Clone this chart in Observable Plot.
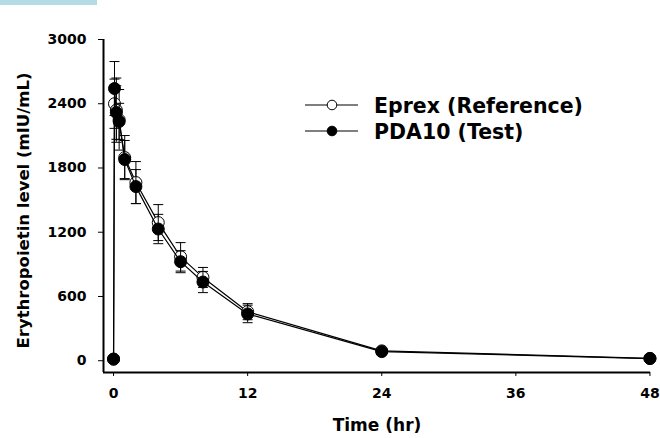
<!DOCTYPE html>
<html><head><meta charset="utf-8">
<script src="https://cdn.jsdelivr.net/npm/d3@7"></script>
<script src="https://cdn.jsdelivr.net/npm/@observablehq/plot@0.6"></script>
<style>
body{margin:0;background:#fff;}
#wrap{position:relative;width:660px;height:438px;overflow:hidden;background:#fff;}
#bar{position:absolute;left:0;top:0;width:97px;height:5px;background:#b4dbe6;}
#legend{position:absolute;left:0;top:0;pointer-events:none;}
</style></head><body>
<div id="wrap"><div id="chart"></div><div id="bar"></div><svg id="legend" width="660" height="438"></svg></div>
<script>
const times = [0, 0.083, 0.25, 0.5, 1, 2, 4, 6, 8, 12, 24, 48];
const eprexMean = [15, 2400, 2340, 2250, 1897, 1664, 1290, 970, 778, 458, 92, 22];
const eprexSD   = [0, 230, 300, 283, 206, 196, 168, 133, 93, 75, 10, 4];
const pdaMean   = [15, 2542, 2318, 2234, 1879, 1626, 1230, 925, 735, 437, 85, 20];
const pdaSD     = [0, 252, 250, 170, 178, 159, 137, 103, 99, 82, 10, 4];
const seriesNames = ["Eprex (Reference)", "PDA10 (Test)"];
const seriesFills = ["white", "black"];
const xTicks = [0, 12, 24, 36, 48];
const yTicks = [0, 600, 1200, 1800, 2400, 3000];
const xLabel = "Time (hr)";
const yLabel = "Erythropoietin level (mIU/mL)";

const xDomain = [-0.9, 48.05];
const yDomain = [-110, 3000];
const FONT = "DejaVu Sans";

const seriesData = [eprexMean, pdaMean].map((means, k) => {
  const sds = k === 0 ? eprexSD : pdaSD;
  return times.map((t, i) => ({t, v: means[i], lo: means[i] - sds[i], hi: means[i] + sds[i], sd: sds[i], name: seriesNames[k]}));
});

const capSymbol = {draw(ctx, size) { const w = Math.sqrt(size / Math.PI); ctx.moveTo(-w, 0); ctx.lineTo(w, 0); }};

const seriesMarks = seriesData.flatMap((rows, k) => {
  const eb = rows.filter(d => d.sd > 0);
  return [
    Plot.ruleX(eb, {x: "t", y1: "lo", y2: "hi", stroke: "black", strokeWidth: 1}),
    Plot.dot(eb, {x: "t", y: "hi", symbol: capSymbol, r: 5, stroke: "black", fill: "none", strokeWidth: 1}),
    Plot.dot(eb, {x: "t", y: "lo", symbol: capSymbol, r: 5, stroke: "black", fill: "none", strokeWidth: 1}),
    Plot.line(rows, {x: "t", y: "v", stroke: "black", strokeWidth: 1.2}),
    Plot.dot(rows, {x: "t", y: "v", r: 6, fill: seriesFills[k], stroke: "black", strokeWidth: 1})
  ];
});

const chart = Plot.plot({
  width: 660,
  height: 438,
  marginLeft: 103,
  marginRight: 10,
  marginTop: 39,
  marginBottom: 66,
  style: {fontFamily: FONT, fontWeight: "bold", background: "white", color: "black"},
  x: {domain: xDomain},
  y: {domain: yDomain},
  marks: [
    Plot.axisY({ticks: yTicks, tickSize: 5, tickPadding: 12, fontSize: 14, fontWeight: "bold", tickFormat: d => String(d), label: null, strokeWidth: 1}),
    Plot.axisX({ticks: xTicks, tickSize: 4, tickPadding: 12, fontSize: 14, fontWeight: "bold", tickFormat: d => String(d), label: null, strokeWidth: 1}),
    Plot.ruleX([xDomain[0]], {y1: () => yDomain[0], y2: () => yDomain[1], stroke: "black", strokeWidth: 2}),
    Plot.ruleY([yDomain[0]], {x1: () => xDomain[0], x2: () => xDomain[1], stroke: "black", strokeWidth: 2}),
    Plot.text([yLabel], {frameAnchor: "left", textAnchor: "middle", rotate: -90, dx: -80, dy: 4.5, fontSize: 16.5, fontWeight: "bold", fill: "black", text: d => d}),
    Plot.text([xLabel], {frameAnchor: "bottom", lineAnchor: "top", dy: 46, fontSize: 17, fontWeight: "bold", fill: "black", text: d => d}),
    ...seriesMarks
  ]
});
document.getElementById("chart").appendChild(chart);

// Legend (HTML/SVG overlay)
const lg = d3.select("#legend");
const legendRows = [{y: 105, base: 112.7}, {y: 131, base: 139}];
seriesNames.forEach((name, k) => {
  const r = legendRows[k];
  lg.append("line").attr("x1", 305).attr("x2", 358).attr("y1", r.y).attr("y2", r.y).attr("stroke", "black").attr("stroke-width", 1.2);
  lg.append("circle").attr("cx", 332).attr("cy", r.y).attr("r", 4.8).attr("fill", seriesFills[k]).attr("stroke", "black").attr("stroke-width", 1);
  lg.append("text").attr("x", 374).attr("y", r.base).attr("font-family", FONT).attr("font-weight", "bold").attr("font-size", 20.5).attr("fill", "black").text(name);
});
</script>
</body></html>
